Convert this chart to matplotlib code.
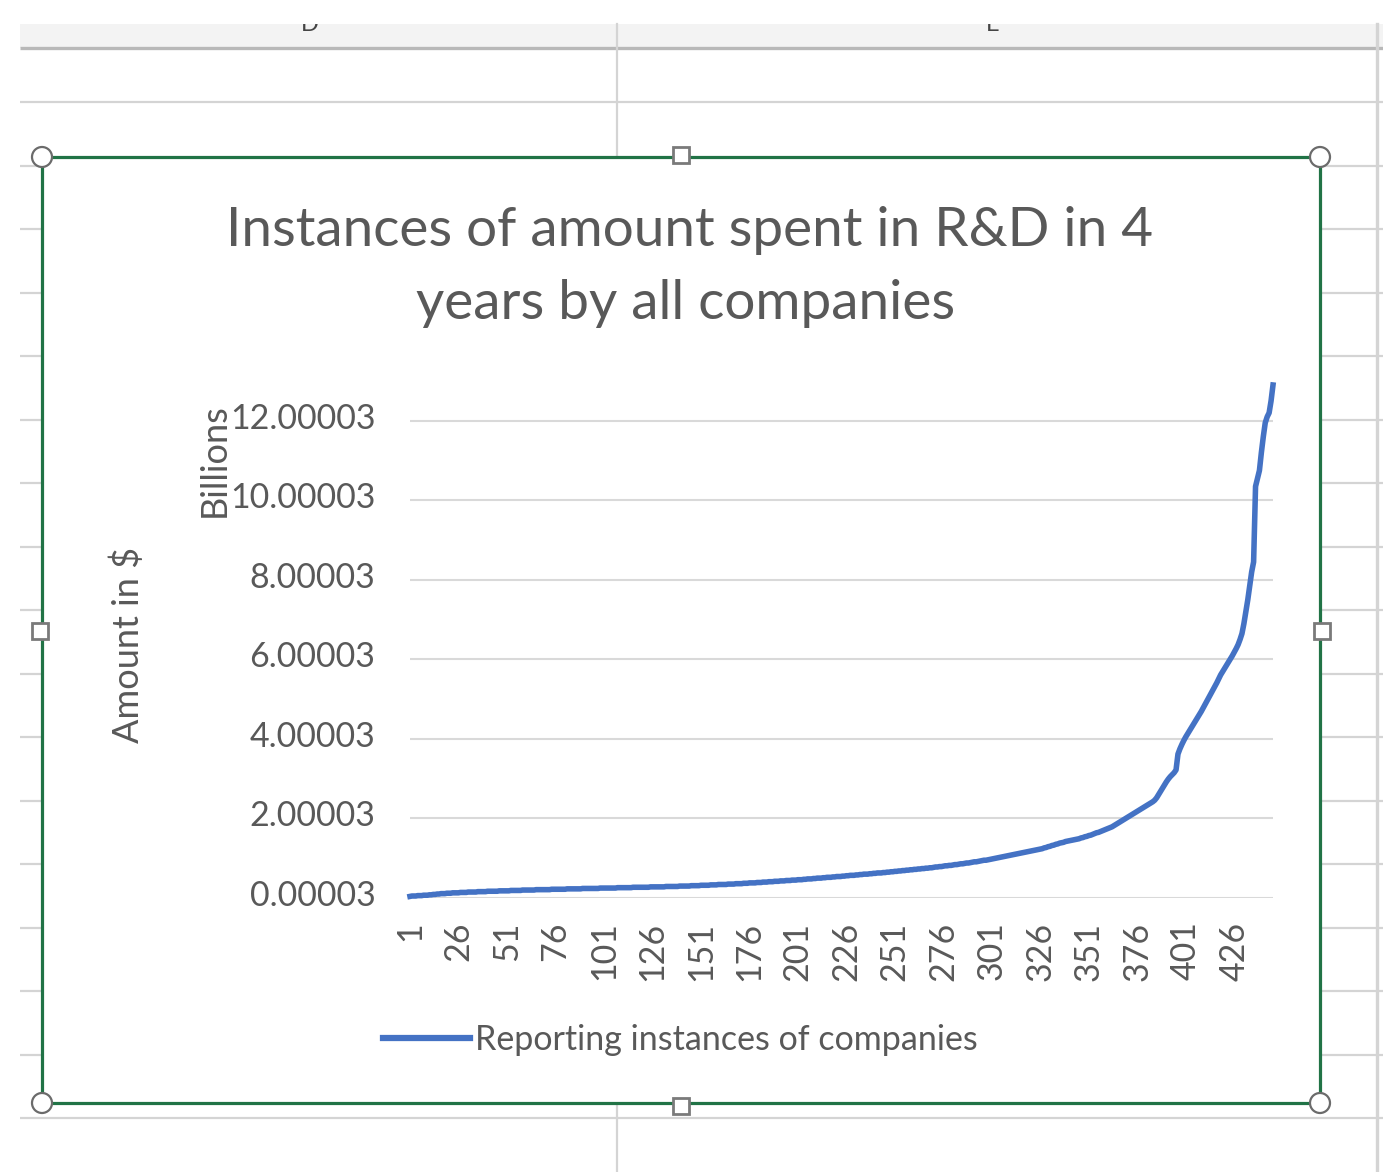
import numpy as np
import matplotlib
matplotlib.use("Agg")
import matplotlib.pyplot as plt
from matplotlib.patches import Rectangle, Ellipse
from matplotlib.transforms import ScaledTranslation

plt.rcParams['font.family'] = ['Lato', 'DejaVu Sans']

# ---------------- data (billions of $) ----------------
amounts_billions = [
    0.04, 0.05, 0.05, 0.05, 0.06, 0.06, 0.06, 0.07, 0.07, 0.07,
    0.08, 0.08, 0.09, 0.09, 0.10, 0.10, 0.11, 0.11, 0.11, 0.12,
    0.12, 0.12, 0.13, 0.13, 0.13, 0.13, 0.14, 0.14, 0.14, 0.14,
    0.15, 0.15, 0.15, 0.15, 0.15, 0.16, 0.16, 0.16, 0.16, 0.16,
    0.17, 0.17, 0.17, 0.17, 0.17, 0.17, 0.18, 0.18, 0.18, 0.18,
    0.18, 0.18, 0.19, 0.19, 0.19, 0.19, 0.19, 0.19, 0.20, 0.20,
    0.20, 0.20, 0.20, 0.20, 0.20, 0.21, 0.21, 0.21, 0.21, 0.21,
    0.21, 0.21, 0.21, 0.22, 0.22, 0.22, 0.22, 0.22, 0.22, 0.22,
    0.22, 0.23, 0.23, 0.23, 0.23, 0.23, 0.23, 0.23, 0.23, 0.24,
    0.24, 0.24, 0.24, 0.24, 0.24, 0.24, 0.24, 0.24, 0.25, 0.25,
    0.25, 0.25, 0.25, 0.25, 0.25, 0.25, 0.25, 0.26, 0.26, 0.26,
    0.26, 0.26, 0.26, 0.26, 0.26, 0.27, 0.27, 0.27, 0.27, 0.27,
    0.27, 0.27, 0.27, 0.27, 0.28, 0.28, 0.28, 0.28, 0.28, 0.28,
    0.28, 0.28, 0.29, 0.29, 0.29, 0.29, 0.29, 0.29, 0.29, 0.30,
    0.30, 0.30, 0.30, 0.30, 0.30, 0.31, 0.31, 0.31, 0.31, 0.31,
    0.32, 0.32, 0.32, 0.32, 0.32, 0.33, 0.33, 0.33, 0.33, 0.34,
    0.34, 0.34, 0.34, 0.34, 0.35, 0.35, 0.35, 0.35, 0.36, 0.36,
    0.36, 0.36, 0.37, 0.37, 0.37, 0.38, 0.38, 0.38, 0.38, 0.39,
    0.39, 0.39, 0.40, 0.40, 0.40, 0.41, 0.41, 0.41, 0.42, 0.42,
    0.42, 0.43, 0.43, 0.43, 0.44, 0.44, 0.44, 0.45, 0.45, 0.45,
    0.46, 0.46, 0.46, 0.47, 0.47, 0.48, 0.48, 0.48, 0.49, 0.49,
    0.50, 0.50, 0.50, 0.51, 0.51, 0.52, 0.52, 0.52, 0.53, 0.53,
    0.54, 0.54, 0.54, 0.55, 0.55, 0.56, 0.56, 0.57, 0.57, 0.57,
    0.58, 0.58, 0.59, 0.59, 0.60, 0.60, 0.60, 0.61, 0.61, 0.62,
    0.62, 0.63, 0.63, 0.63, 0.64, 0.64, 0.65, 0.65, 0.66, 0.66,
    0.67, 0.67, 0.68, 0.68, 0.69, 0.69, 0.70, 0.70, 0.71, 0.71,
    0.72, 0.72, 0.73, 0.73, 0.74, 0.74, 0.75, 0.75, 0.76, 0.76,
    0.77, 0.78, 0.78, 0.79, 0.79, 0.80, 0.81, 0.81, 0.82, 0.82,
    0.83, 0.84, 0.84, 0.85, 0.86, 0.86, 0.87, 0.88, 0.88, 0.89,
    0.90, 0.91, 0.91, 0.92, 0.93, 0.94, 0.95, 0.95, 0.96, 0.97,
    0.98, 0.99, 1.00, 1.01, 1.02, 1.03, 1.04, 1.05, 1.06, 1.07,
    1.08, 1.09, 1.10, 1.11, 1.12, 1.13, 1.14, 1.15, 1.16, 1.17,
    1.18, 1.19, 1.20, 1.21, 1.22, 1.23, 1.24, 1.26, 1.27, 1.29,
    1.30, 1.32, 1.33, 1.35, 1.36, 1.38, 1.39, 1.40, 1.42, 1.43,
    1.44, 1.45, 1.46, 1.47, 1.48, 1.49, 1.51, 1.52, 1.54, 1.55,
    1.57, 1.58, 1.60, 1.62, 1.64, 1.65, 1.67, 1.69, 1.71, 1.73,
    1.75, 1.77, 1.79, 1.82, 1.85, 1.88, 1.91, 1.94, 1.97, 2.00,
    2.03, 2.06, 2.09, 2.12, 2.15, 2.18, 2.21, 2.24, 2.27, 2.30,
    2.33, 2.36, 2.39, 2.42, 2.46, 2.52, 2.60, 2.68, 2.76, 2.84,
    2.92, 2.99, 3.05, 3.10, 3.15, 3.22, 3.62, 3.75, 3.86, 3.96,
    4.05, 4.13, 4.21, 4.29, 4.37, 4.45, 4.53, 4.61, 4.69, 4.78,
    4.87, 4.96, 5.05, 5.14, 5.23, 5.32, 5.41, 5.51, 5.61, 5.69,
    5.77, 5.85, 5.93, 6.01, 6.09, 6.18, 6.27, 6.37, 6.50, 6.65,
    6.90, 7.20, 7.50, 7.85, 8.20, 8.45, 10.35, 10.55, 10.75, 11.20,
    11.60, 11.95, 12.10, 12.20, 12.50, 12.90,
]
categories = np.arange(1, len(amounts_billions) + 1)

x_tick_positions = list(range(1, 427, 25))
x_tick_labels = [str(v) for v in x_tick_positions]
y_tick_values = [0.00003, 2.00003, 4.00003, 6.00003, 8.00003, 10.00003, 12.00003]
y_tick_labels = ["0.00003", "2.00003", "4.00003", "6.00003", "8.00003", "10.00003", "12.00003"]
y_max = 12.9

title_lines = ["Instances of amount spent in R&D in 4", "years by all companies"]
series_name = "Reporting instances of companies"
y_axis_title = "Amount in $"
y_unit_label = "Billions"
column_letters = ["D", "E"]

# ---------------- layout ----------------
W, H = 1383, 1172
fig = plt.figure(figsize=(W / 100, H / 100), dpi=100)
fig.patch.set_facecolor('white')

def fx(px):
    return px / W

def fy(py):
    return 1 - py / H

TXT = '#595959'
GREEN = '#217346'
BLUE = '#4472C4'
FS = 24.5

# background "spreadsheet" axes in pixel coordinates
bg = fig.add_axes([0, 0, 1, 1])
bg.set_xlim(0, W)
bg.set_ylim(H, 0)
bg.axis('off')
bg.set_zorder(0)

bg.add_patch(Rectangle((20, 24), W - 20, 24, facecolor='#f3f3f3', edgecolor='none', zorder=1))
for cx, letter in zip([310, 993], column_letters):
    bg.text(cx, 31, letter, ha='center', va='baseline', fontsize=17, color='#444444', zorder=1.5)
bg.add_patch(Rectangle((0, 0), W, 24, facecolor='white', edgecolor='none', zorder=2))
bg.plot([20, W], [48, 48], color='#b8b8b8', lw=2.4, zorder=2, solid_capstyle='butt')
for ry in [102, 166, 229, 293, 356, 420, 483, 547, 610, 674, 737, 801, 864, 928, 991, 1055, 1118]:
    bg.plot([20, W], [ry, ry], color='#d4d4d4', lw=1.6, zorder=2, solid_capstyle='butt')
bg.plot([617, 617], [24, H], color='#d4d4d4', lw=1.6, zorder=2)
bg.plot([1377, 1377], [24, H], color='#d4d4d4', lw=2.4, zorder=2)

# chart area
bg.add_patch(Rectangle((42, 157), 1320 - 42, 1103 - 157, facecolor='white',
                       edgecolor=GREEN, lw=2.3, zorder=3))
for (hx, hy) in [(42, 157), (1320, 157), (42, 1103), (1320, 1103)]:
    bg.add_patch(Ellipse((hx, hy), 20, 20, facecolor='white', edgecolor='#6b6b6b', lw=1.6, zorder=4))
for (hx, hy) in [(681, 155), (681, 1106), (40, 631), (1322, 631)]:
    bg.add_patch(Rectangle((hx - 8, hy - 8), 16, 16, facecolor='white', edgecolor='#7a7a7a', lw=2.0, zorder=4))

# titles
bg.text(690, 246, title_lines[0], ha='center', va='baseline', fontsize=39.5, color=TXT, zorder=5)
bg.text(686, 319, title_lines[1], ha='center', va='baseline', fontsize=39.5, color=TXT, zorder=5)
bg.text(128, 645, y_axis_title, ha='center', va='center', rotation=90, fontsize=26, color=TXT, zorder=5)
bg.text(214, 460, y_unit_label, ha='center', va='center', rotation=90, fontsize=26, color=TXT, zorder=5)

# plot axes
ax = fig.add_axes([fx(410), fy(898), fx(1273) - fx(410), (898 - 385) / H])
ax.set_zorder(5)
ax.patch.set_alpha(0)
line, = ax.plot(categories, amounts_billions, color=BLUE, lw=4.0, solid_joinstyle='round',
                label=series_name, clip_on=False, zorder=3)
ax.set_xlim(1, len(amounts_billions))
ax.set_ylim(y_tick_values[0], y_max)
ax.set_yticks(y_tick_values)
ax.set_yticklabels(y_tick_labels)
ax.set_xticks(x_tick_positions)
ax.set_xticklabels(x_tick_labels, rotation=90)
ax.grid(axis='y', color='#d9d9d9', lw=1.5)
ax.grid(axis='x', visible=False)
ax.set_axisbelow(True)
for s in ax.spines.values():
    s.set_visible(False)
ax.tick_params(axis='y', length=0, labelsize=FS, colors=TXT, pad=25)
ax.tick_params(axis='x', length=0, labelsize=FS, colors=TXT, pad=17)
offset = ScaledTranslation(0, 0.05, fig.dpi_scale_trans)
for lab in ax.get_yticklabels():
    lab.set_transform(lab.get_transform() + offset)

leg = ax.legend(loc='center left', bbox_to_anchor=(fx(383), fy(1040)), bbox_transform=fig.transFigure,
                frameon=False, borderpad=0, borderaxespad=0, fontsize=FS,
                handlelength=87 / (FS * 100 / 72), handletextpad=5 / (FS * 100 / 72))
for t in leg.get_texts():
    t.set_color(TXT)
for l in leg.get_lines():
    l.set_linewidth(4.5)

fig.savefig('out.png', dpi=100, facecolor='white')
